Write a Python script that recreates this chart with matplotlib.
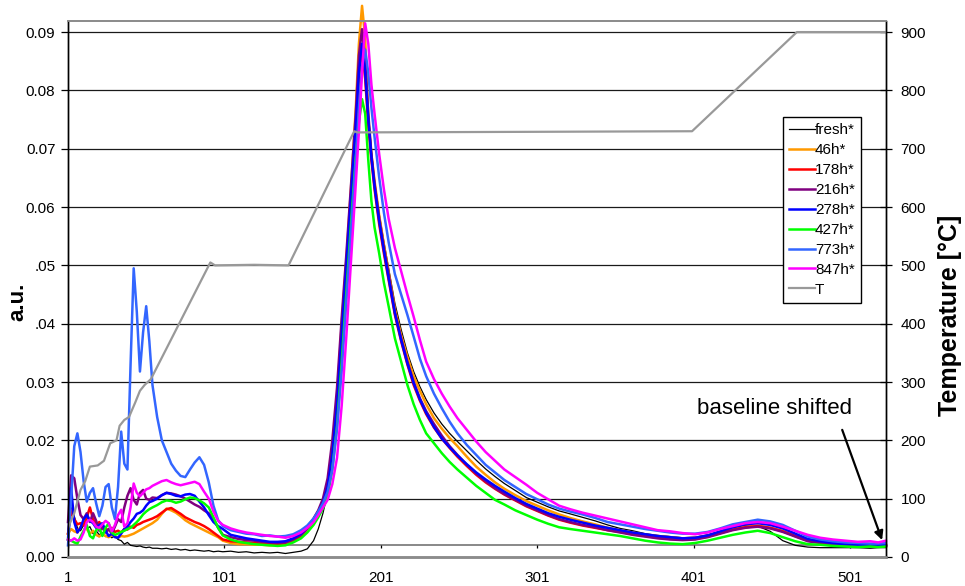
import matplotlib
matplotlib.use('Agg')
import matplotlib.pyplot as plt

plt.rcParams['font.family'] = ['Liberation Sans', 'DejaVu Sans']

# ---------------- data ----------------
X = [1, 3, 5, 7, 9, 11, 13, 15, 17, 19, 21, 23, 25, 27, 29, 31, 33, 35, 37, 39, 41, 43, 45, 47, 49, 51, 53, 55,
     58, 61, 64, 67, 70, 73, 76, 79, 82, 85, 88, 91, 94, 97, 100,
     105, 110, 115, 120, 125, 130, 135, 140, 145, 150,
     154, 158,
     161, 164, 167, 170, 173, 176, 179, 182, 185,
     187, 189, 191, 193, 195, 197,
     200, 203, 206,
     210, 214, 218, 222, 226, 230,
     235, 240, 245, 250,
     256, 262, 268, 274, 280,
     287, 294, 301, 308, 315,
     322,
     330, 338, 346, 354, 362, 370, 378, 386, 394, 402, 410, 418, 426, 434, 442, 450, 458, 466, 474, 482, 490, 498, 506, 514,
     519, 524]

fresh = [0.0030, 0.0085, 0.0070, 0.0050, 0.0045, 0.0055, 0.0048, 0.0052, 0.0040, 0.0045, 0.0038, 0.0042, 0.0035, 0.0038,
         0.0033, 0.0036, 0.0030, 0.0028, 0.0022, 0.0025, 0.0020, 0.0019, 0.0018, 0.0019, 0.0017, 0.0016, 0.0017, 0.0015,
         0.0015, 0.0014, 0.0015, 0.0013, 0.0014, 0.0012, 0.0013, 0.0011, 0.0012, 0.0011, 0.0010, 0.0011, 0.0009, 0.0010, 0.0009,
         0.0010, 0.0008, 0.0009, 0.0007, 0.0008, 0.0007, 0.0008, 0.0006, 0.0008, 0.0010,
         0.0014, 0.0028,
         0.0048, 0.0075, 0.0110, 0.0165, 0.0250, 0.0370, 0.0490, 0.0620, 0.0750,
         0.0840, 0.0880, 0.0830, 0.0760, 0.0695, 0.0645,
         0.0588, 0.0540, 0.0495,
         0.0435, 0.0390, 0.0350, 0.0318, 0.0292, 0.0270,
         0.0247, 0.0228, 0.0212, 0.0198,
         0.0182, 0.0166, 0.0151, 0.0138, 0.0126,
         0.0114, 0.0102, 0.0094, 0.0086, 0.0079,
         0.0074,
         0.0068, 0.0062, 0.0055, 0.0049, 0.0045, 0.0040, 0.0037, 0.0035, 0.0033, 0.0034, 0.0038, 0.0044, 0.0050, 0.0054,
         0.0053, 0.0044, 0.0028, 0.0020, 0.0017, 0.0016, 0.0016, 0.0016, 0.0016, 0.0015,
         0.0016, 0.0016]

h46 = [0.0040, 0.0048, 0.0044, 0.0042, 0.0052, 0.0060, 0.0048, 0.0040, 0.0045, 0.0038, 0.0035, 0.0040, 0.0036, 0.0034,
       0.0037, 0.0035, 0.0033, 0.0036, 0.0035, 0.0036, 0.0038, 0.0040, 0.0043, 0.0046, 0.0049, 0.0052, 0.0055, 0.0058,
       0.0064, 0.0074, 0.0083, 0.0080, 0.0076, 0.0070, 0.0063, 0.0058, 0.0054, 0.0050, 0.0046, 0.0042, 0.0038, 0.0034, 0.0028,
       0.0024, 0.0022, 0.0022, 0.0021, 0.0021, 0.0020, 0.0021, 0.0023, 0.0029, 0.0038,
       0.0052, 0.0065,
       0.0078, 0.0095, 0.0125, 0.0185, 0.0270, 0.0400, 0.0510, 0.0635, 0.0770,
       0.0880, 0.0945, 0.0890, 0.0750, 0.0690, 0.0645,
       0.0585, 0.0535, 0.0488,
       0.0425, 0.0380, 0.0343, 0.0310, 0.0285, 0.0262,
       0.0238, 0.0220, 0.0204, 0.0190,
       0.0172, 0.0155, 0.0141, 0.0128, 0.0117,
       0.0106, 0.0096, 0.0088, 0.0080, 0.0073,
       0.0067,
       0.0061, 0.0056, 0.0050, 0.0046, 0.0042, 0.0038, 0.0036, 0.0034, 0.0032, 0.0033, 0.0036, 0.0042, 0.0047, 0.0052,
       0.0054, 0.0050, 0.0045, 0.0036, 0.0030, 0.0026, 0.0023, 0.0021, 0.0020, 0.0020,
       0.0019, 0.0019]

h178 = [0.0040, 0.0080, 0.0065, 0.0056, 0.0058, 0.0054, 0.0068, 0.0085, 0.0065, 0.0055, 0.0060, 0.0050, 0.0048, 0.0046,
        0.0050, 0.0043, 0.0045, 0.0042, 0.0048, 0.0047, 0.0052, 0.0050, 0.0055, 0.0057, 0.0060, 0.0062, 0.0064, 0.0066,
        0.0070, 0.0076, 0.0082, 0.0084, 0.0079, 0.0074, 0.0068, 0.0064, 0.0060, 0.0057, 0.0053, 0.0048, 0.0042, 0.0036, 0.0030,
        0.0027, 0.0026, 0.0025, 0.0024, 0.0023, 0.0022, 0.0022, 0.0024, 0.0028, 0.0036,
        0.0048, 0.0062,
        0.0075, 0.0092, 0.0118, 0.0170, 0.0250, 0.0370, 0.0490, 0.0610, 0.0730,
        0.0820, 0.0870, 0.0820, 0.0740, 0.0680, 0.0630,
        0.0570, 0.0520, 0.0475,
        0.0415, 0.0370, 0.0330, 0.0295, 0.0268, 0.0245,
        0.0222, 0.0203, 0.0187, 0.0172,
        0.0156, 0.0141, 0.0128, 0.0117, 0.0107,
        0.0097, 0.0087, 0.0079, 0.0071, 0.0064,
        0.0059,
        0.0054, 0.0050, 0.0046, 0.0043, 0.0039, 0.0036, 0.0033, 0.0031, 0.0030, 0.0031, 0.0035, 0.0041, 0.0047, 0.0051,
        0.0053, 0.0050, 0.0044, 0.0036, 0.0028, 0.0025, 0.0022, 0.0021, 0.0020, 0.0020,
        0.0019, 0.0020]

h216 = [0.0060, 0.0140, 0.0135, 0.0100, 0.0072, 0.0065, 0.0075, 0.0060, 0.0075, 0.0062, 0.0045, 0.0050, 0.0042, 0.0048,
        0.0040, 0.0052, 0.0065, 0.0060, 0.0085, 0.0105, 0.0118, 0.0098, 0.0090, 0.0110, 0.0115, 0.0100, 0.0098, 0.0102,
        0.0101, 0.0106, 0.0110, 0.0109, 0.0107, 0.0104, 0.0100, 0.0095, 0.0090, 0.0086, 0.0080, 0.0075, 0.0065, 0.0050, 0.0038,
        0.0034, 0.0031, 0.0029, 0.0028, 0.0026, 0.0025, 0.0024, 0.0025, 0.0030, 0.0038,
        0.0050, 0.0066,
        0.0080, 0.0100, 0.0135, 0.0200, 0.0290, 0.0410, 0.0520, 0.0640, 0.0760,
        0.0860, 0.0905, 0.0850, 0.0760, 0.0690, 0.0640,
        0.0580, 0.0530, 0.0485,
        0.0420, 0.0375, 0.0335, 0.0300, 0.0272, 0.0250,
        0.0228, 0.0208, 0.0190, 0.0175,
        0.0158, 0.0143, 0.0130, 0.0118, 0.0108,
        0.0098, 0.0088, 0.0080, 0.0072, 0.0065,
        0.0060,
        0.0055, 0.0051, 0.0046, 0.0042, 0.0038, 0.0035, 0.0032, 0.0030, 0.0029, 0.0030, 0.0034, 0.0040, 0.0046, 0.0050,
        0.0052, 0.0049, 0.0043, 0.0035, 0.0027, 0.0024, 0.0022, 0.0021, 0.0020, 0.0019,
        0.0020, 0.0019]

h278 = [0.0030, 0.0118, 0.0060, 0.0042, 0.0050, 0.0065, 0.0072, 0.0062, 0.0058, 0.0050, 0.0055, 0.0058, 0.0045, 0.0036,
        0.0040, 0.0034, 0.0033, 0.0040, 0.0048, 0.0052, 0.0060, 0.0066, 0.0074, 0.0076, 0.0080, 0.0088, 0.0094, 0.0096,
        0.0100, 0.0106, 0.0110, 0.0108, 0.0105, 0.0104, 0.0107, 0.0108, 0.0105, 0.0095, 0.0085, 0.0072, 0.0060, 0.0053, 0.0048,
        0.0038, 0.0035, 0.0032, 0.0030, 0.0028, 0.0026, 0.0026, 0.0027, 0.0032, 0.0040,
        0.0050, 0.0064,
        0.0077, 0.0093, 0.0120, 0.0175, 0.0260, 0.0380, 0.0500, 0.0620, 0.0740,
        0.0830, 0.0880, 0.0830, 0.0750, 0.0685, 0.0635,
        0.0575, 0.0525, 0.0478,
        0.0418, 0.0372, 0.0332, 0.0298, 0.0270, 0.0247,
        0.0223, 0.0203, 0.0188, 0.0174,
        0.0159, 0.0145, 0.0133, 0.0122, 0.0112,
        0.0101, 0.0091, 0.0083, 0.0075, 0.0069,
        0.0064,
        0.0059, 0.0054, 0.0050, 0.0046, 0.0042, 0.0039, 0.0036, 0.0034, 0.0032, 0.0033, 0.0037, 0.0044, 0.0051, 0.0056,
        0.0058, 0.0055, 0.0049, 0.0040, 0.0031, 0.0027, 0.0024, 0.0022, 0.0021, 0.0020,
        0.0021, 0.0020]

h427 = [0.0030, 0.0028, 0.0025, 0.0023, 0.0035, 0.0045, 0.0055, 0.0036, 0.0032, 0.0046, 0.0050, 0.0036, 0.0050, 0.0058,
        0.0042, 0.0038, 0.0040, 0.0043, 0.0045, 0.0048, 0.0050, 0.0055, 0.0060, 0.0066, 0.0073, 0.0078, 0.0082, 0.0085,
        0.0089, 0.0094, 0.0097, 0.0096, 0.0093, 0.0095, 0.0099, 0.0102, 0.0101, 0.0097, 0.0092, 0.0085, 0.0068, 0.0050, 0.0037,
        0.0030, 0.0026, 0.0024, 0.0022, 0.0021, 0.0020, 0.0019, 0.0020, 0.0025, 0.0032,
        0.0042, 0.0055,
        0.0068, 0.0083, 0.0105, 0.0150, 0.0225, 0.0335, 0.0455, 0.0575, 0.0685,
        0.0745, 0.0785, 0.0760, 0.0680, 0.0610, 0.0565,
        0.0520, 0.0470, 0.0430,
        0.0375, 0.0335, 0.0295, 0.0262, 0.0235, 0.0212,
        0.0195, 0.0178, 0.0163, 0.0150,
        0.0136, 0.0122, 0.0110, 0.0098, 0.0090,
        0.0080, 0.0072, 0.0064, 0.0057, 0.0051,
        0.0048,
        0.0045, 0.0042, 0.0039, 0.0036, 0.0032, 0.0028, 0.0025, 0.0023, 0.0022, 0.0024, 0.0028, 0.0033, 0.0038, 0.0042,
        0.0045, 0.0041, 0.0034, 0.0027, 0.0022, 0.0021, 0.0019, 0.0018, 0.0017, 0.0018,
        0.0017, 0.0018]

h773 = [0.0020, 0.0100, 0.0190, 0.0212, 0.0180, 0.0130, 0.0095, 0.0110, 0.0118, 0.0092, 0.0070, 0.0088, 0.0120, 0.0125,
        0.0085, 0.0065, 0.0120, 0.0215, 0.0160, 0.0150, 0.0330, 0.0495, 0.0420, 0.0318, 0.0385, 0.0430, 0.0370, 0.0295,
        0.0240, 0.0200, 0.0180, 0.0160, 0.0148, 0.0139, 0.0137, 0.0150, 0.0162, 0.0171, 0.0158, 0.0128, 0.0088, 0.0063, 0.0053,
        0.0046, 0.0043, 0.0040, 0.0039, 0.0036, 0.0037, 0.0035, 0.0036, 0.0039, 0.0046,
        0.0054, 0.0066,
        0.0078, 0.0092, 0.0112, 0.0150, 0.0220, 0.0320, 0.0440, 0.0560, 0.0680,
        0.0770, 0.0840, 0.0870, 0.0830, 0.0770, 0.0720,
        0.0650, 0.0590, 0.0540,
        0.0485, 0.0450, 0.0415, 0.0378, 0.0340, 0.0310,
        0.0280, 0.0255, 0.0232, 0.0212,
        0.0192, 0.0175, 0.0158, 0.0145, 0.0132,
        0.0120, 0.0108, 0.0099, 0.0090, 0.0083,
        0.0078,
        0.0073, 0.0067, 0.0060, 0.0056, 0.0052, 0.0048, 0.0045, 0.0042, 0.0040, 0.0040, 0.0043, 0.0049, 0.0056, 0.0060,
        0.0064, 0.0061, 0.0055, 0.0045, 0.0035, 0.0030, 0.0027, 0.0025, 0.0024, 0.0023,
        0.0023, 0.0024]

h847 = [0.0030, 0.0028, 0.0032, 0.0028, 0.0030, 0.0042, 0.0060, 0.0064, 0.0060, 0.0052, 0.0050, 0.0056, 0.0062, 0.0058,
        0.0044, 0.0055, 0.0072, 0.0081, 0.0052, 0.0058, 0.0085, 0.0126, 0.0110, 0.0104, 0.0110, 0.0116, 0.0118, 0.0122,
        0.0126, 0.0130, 0.0132, 0.0128, 0.0125, 0.0123, 0.0125, 0.0127, 0.0129, 0.0125, 0.0112, 0.0100, 0.0078, 0.0062, 0.0055,
        0.0049, 0.0045, 0.0042, 0.0040, 0.0038, 0.0036, 0.0035, 0.0033, 0.0036, 0.0042,
        0.0050, 0.0060,
        0.0072, 0.0085, 0.0098, 0.0125, 0.0170, 0.0260, 0.0380, 0.0510, 0.0640,
        0.0730, 0.0830, 0.0915, 0.0880, 0.0810, 0.0760,
        0.0690, 0.0630, 0.0580,
        0.0530, 0.0490, 0.0450, 0.0412, 0.0372, 0.0335,
        0.0305, 0.0280, 0.0258, 0.0238,
        0.0218, 0.0198, 0.0180, 0.0165, 0.0150,
        0.0137, 0.0124, 0.0110, 0.0099, 0.0088,
        0.0082,
        0.0076, 0.0071, 0.0066, 0.0061, 0.0056, 0.0051, 0.0046, 0.0044, 0.0041, 0.0039, 0.0042, 0.0048, 0.0053, 0.0058,
        0.0060, 0.0058, 0.0052, 0.0045, 0.0038, 0.0033, 0.0030, 0.0028, 0.0026, 0.0027,
        0.0025, 0.0028]

T_X = [1, 5, 9, 12, 15, 20, 24, 28, 32, 34, 37, 40, 44, 47, 50, 54, 92, 95, 120, 142, 184, 186, 300, 400, 467, 524]
T_C = [50, 75, 115, 130, 155, 157, 165, 195, 200, 225, 235, 240, 265, 285, 295, 305, 505, 500, 501, 500, 730, 728, 729, 730, 900, 900]

LABELS = ['fresh*', '46h*', '178h*', '216h*', '278h*', '427h*', '773h*', '847h*']
SERIES = [fresh, h46, h178, h216, h278, h427, h773, h847]
COLORS = ['#000000', '#FF9900', '#FF0000', '#800080', '#0000FF', '#00FF00', '#3366FF', '#FF00FF']
WIDTHS = [0.9, 1.8, 1.8, 1.8, 1.8, 1.8, 1.8, 1.8]

Y_TICKS = [0.00, 0.01, 0.02, 0.03, 0.04, 0.05, 0.06, 0.07, 0.08, 0.09]
Y_TICKLABELS = ['0.00', '0.01', '0.02', '0.03', '.04', '.05', '0.06', '0.07', '0.08', '0.09']
T_TICKS = [0, 100, 200, 300, 400, 500, 600, 700, 800, 900]
X_TICKS = [1, 101, 201, 301, 401, 501]

for s in SERIES:
    assert len(s) == len(X)

# ---------------- figure ----------------
W, H = 965, 586
fig = plt.figure(figsize=(W / 100, H / 100), dpi=100)
left, right, bottom, top = 68, 886, 557, 21
ax = fig.add_axes([left / W, 1 - bottom / H, (right - left) / W, (bottom - top) / H])
ax2 = ax.twinx()

ymax = 0.0919
ax.set_xlim(1, 524)
ax.set_ylim(0, ymax)
ax2.set_ylim(0, ymax * 10000)

# grid
for yv in Y_TICKS[1:]:
    ax.axhline(yv, color='#1a1a1a', lw=0.9, zorder=0.5)
ax.axhline(0.00207, color='#7f7f7f', lw=1.3, zorder=0.6)
ax.vlines(X_TICKS, 0.0015, 0.00207, color='black', lw=0.9, zorder=0.6)

handles = []
for ys, lab, c, lw in zip(SERIES, LABELS, COLORS, WIDTHS):
    ln, = ax.plot(X, ys, color=c, lw=lw, label=lab, clip_on=False, zorder=2)
    handles.append(ln)
tl, = ax2.plot(T_X, T_C, color='#999999', lw=1.6, label='T', zorder=2)
handles.append(tl)

# spines
for a in (ax, ax2):
    a.spines['top'].set_color('#8c8c8c')
    a.spines['top'].set_linewidth(1.3)
    a.spines['bottom'].set_color('#8c8c8c')
    a.spines['bottom'].set_linewidth(1.8)
    a.spines['left'].set_color('black')
    a.spines['right'].set_color('black')
    a.spines['left'].set_linewidth(1.0)
    a.spines['right'].set_linewidth(1.0)

ax.set_yticks(Y_TICKS)
ax.set_yticklabels(Y_TICKLABELS)
ax2.set_yticks(T_TICKS)
ax.set_xticks(X_TICKS)
ax.set_xticklabels([str(v) for v in X_TICKS])
ax.tick_params(axis='x', length=0, pad=10, labelsize=11)
ax.tick_params(axis='y', direction='out', length=5, width=0.9, labelsize=11, pad=4)
ax2.tick_params(axis='y', direction='inout', length=9, width=0.9, labelsize=11, pad=6)

ax.set_ylabel('a.u.', fontsize=16, fontweight='bold', va='center')
ax.yaxis.set_label_coords(-0.061, 0.476)
ax2.set_ylabel('Temperature [°C]', fontsize=18, fontweight='bold', rotation=90, va='center')
ax2.yaxis.set_label_coords(1.078, 0.45)

# annotation
ax.text(453, 0.0255, 'baseline shifted', ha='center', va='center', fontsize=16)
ax.annotate('', xy=(521.5, 0.0029), xytext=(496, 0.0218),
            arrowprops=dict(arrowstyle='-|>', color='black', lw=1.6, shrinkA=0, shrinkB=0,
                            mutation_scale=13))

leg = ax2.legend(handles, [h.get_label() for h in handles], loc='upper left',
                 bbox_to_anchor=(783 / W, 1 - 117 / H), bbox_transform=fig.transFigure,
                 frameon=True, fancybox=False, edgecolor='black', framealpha=1,
                 handlelength=1.7, handletextpad=0.0, borderpad=0.4, labelspacing=0.39,
                 fontsize=11, borderaxespad=0)
leg.get_frame().set_linewidth(1.0)

fig.savefig('out.png', dpi=100)
